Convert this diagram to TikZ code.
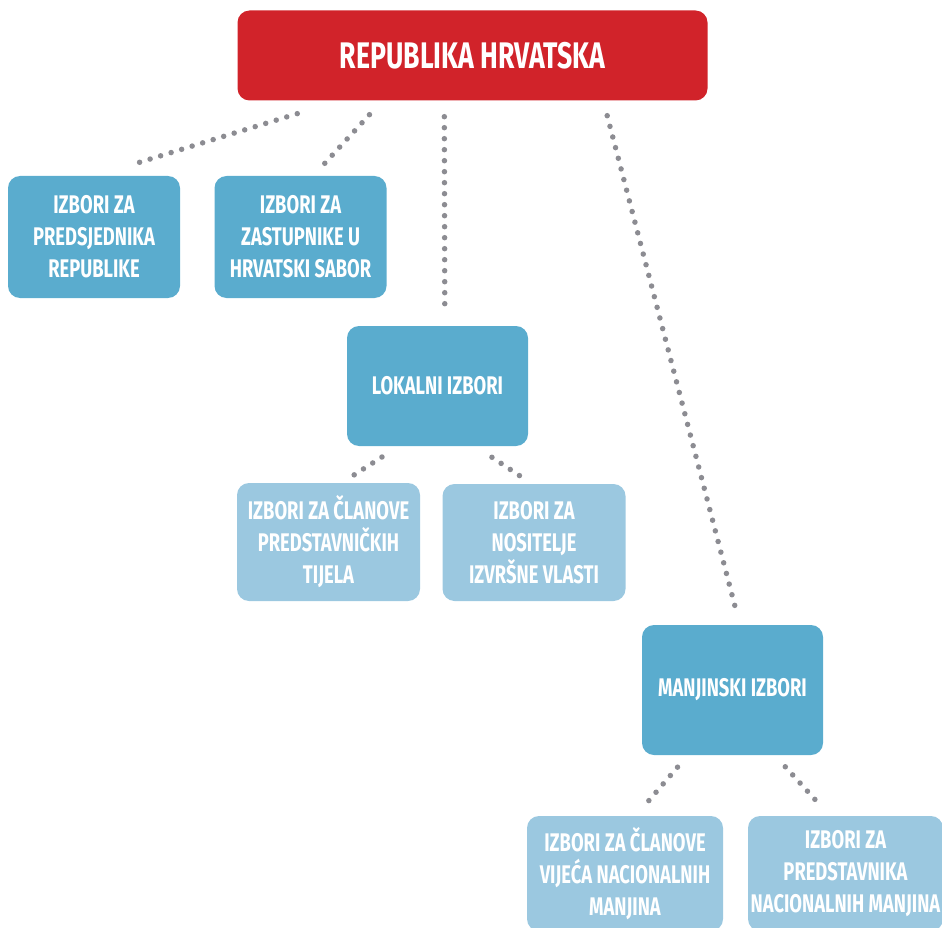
\documentclass[tikz,border=0pt]{standalone}
\usepackage{fontspec}
\newfontfamily\boxfont[FakeStretch=0.72]{Fira Sans}
\definecolor{cred}{RGB}{209,35,42}
\definecolor{cblue}{RGB}{90,172,206}
\definecolor{clight}{RGB}{155,200,224}
\definecolor{cdot}{RGB}{140,140,146}
\begin{document}
\begin{tikzpicture}[x=1pt,y=-1pt,
  box/.style={rounded corners=12pt, inner sep=0pt, align=center, text=white,
    font=\boxfont\bfseries\fontsize{25.5}{32}\selectfont},
  mainbox/.style={box, fill=cblue},
  subbox/.style={box, fill=clight},
  topbox/.style={box, fill=cred, font=\boxfont\bfseries\fontsize{37}{40}\selectfont},
  conn/.style={draw=cdot, line width=5.5pt, line cap=round, dash pattern=on 0pt off 11pt}]
\path[use as bounding box, clip] (0,0) rectangle (942,928);

\node[topbox, minimum width=470, minimum height=90] (red) at (472.5,55.5) {REPUBLIKA HRVATSKA};
\node[mainbox, minimum width=172, minimum height=122] (pres) at (94,237) {IZBORI ZA\\PREDSJEDNIKA\\REPUBLIKE};
\node[mainbox, minimum width=172, minimum height=122] (sabor) at (300.5,237) {IZBORI ZA\\ZASTUPNIKE U\\HRVATSKI SABOR};
\node[mainbox, minimum width=181, minimum height=120] (lok) at (437.5,386) {LOKALNI IZBORI};
\node[subbox, minimum width=183, minimum height=118] (clan) at (328.5,542) {IZBORI ZA ČLANOVE\\PREDSTAVNIČKIH\\TIJELA};
\node[subbox, minimum width=183, minimum height=117] (nos) at (534,542.5) {IZBORI ZA\\NOSITELJE\\IZVRŠNE VLASTI};
\node[mainbox, minimum width=181, minimum height=130] (manj) at (732.5,690) {MANJINSKI IZBORI};
\node[subbox, minimum width=196, minimum height=115] (vij) at (625,873.5) {IZBORI ZA ČLANOVE\\VIJEĆA NACIONALNIH\\MANJINA};
\node[subbox, minimum width=195, minimum height=115] (pnm) at (845.5,873.5) {IZBORI ZA\\PREDSTAVNIKA\\NACIONALNIH MANJINA};

\draw[conn, shorten <=44pt, shorten >=41pt] ([xshift=102pt]red.south west) -- ([xshift=88pt]pres.north west);
\draw[conn, shorten <=19pt, shorten >=13.5pt] ([xshift=145pt]red.south west) -- ([xshift=99pt]sabor.north west);
\draw[conn, shorten <=16pt, shorten >=14pt] ([xshift=207pt]red.south west) -- ([xshift=98pt]lok.north west);
\draw[conn, shorten <=15.5pt, shorten >=13.3pt] ([xshift=366pt]red.south west) -- ([xshift=98pt]manj.north west);
\draw[conn, shorten <=20pt, shorten >=11pt] ([xshift=52pt]lok.south west) -- ([xshift=105pt]clan.north west);
\draw[conn, shorten <=20pt, shorten >=11pt] ([xshift=128.5pt]lok.south west) -- ([xshift=89.5pt]nos.north west);
\draw[conn, shorten <=15.8pt, shorten >=17pt] ([xshift=46pt]manj.south west) -- ([xshift=109pt]vij.north west);
\draw[conn, shorten <=15.6pt, shorten >=17pt] ([xshift=133pt]manj.south west) -- ([xshift=82pt]pnm.north west);
\end{tikzpicture}
\end{document}
